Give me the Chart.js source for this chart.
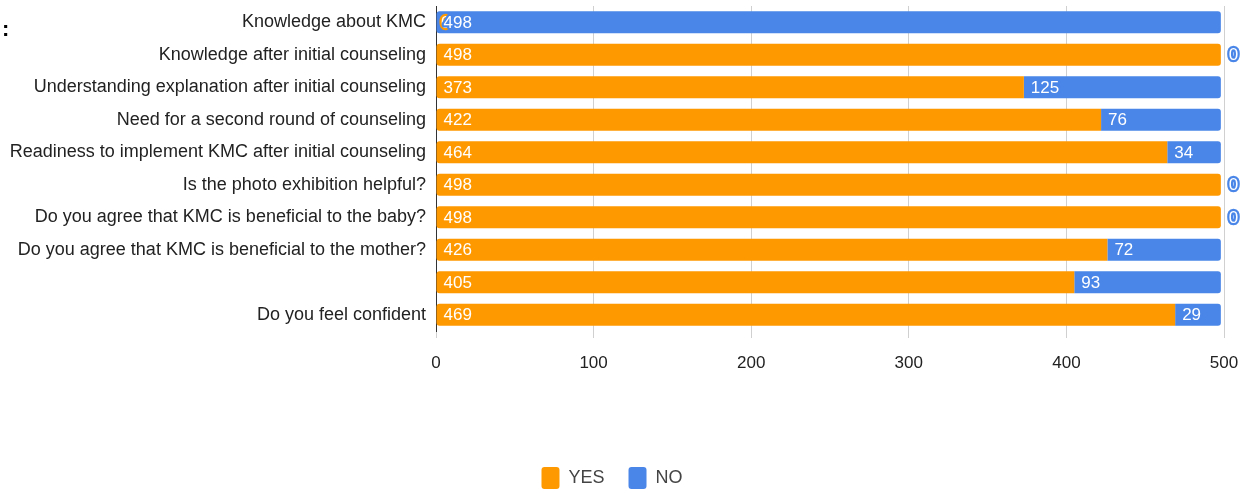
<!DOCTYPE html>
<html>
<head>
<meta charset="utf-8">
<script src="https://cdn.jsdelivr.net/npm/chart.js@4"></script>
<style>
  html, body { margin: 0; padding: 0; background: #fff; }
  #wrap { width: 1249px; height: 493px; }
</style>
</head>
<body>
<div id="wrap"><canvas id="myChart" width="1249" height="493"></canvas></div>
<script>
// categories (top to bottom)
var categories = [
    'Knowledge about KMC',
    'Knowledge after initial counseling',
    'Understanding explanation after initial counseling',
    'Need for a second round of counseling',
    'Readiness to implement KMC after initial counseling',
    'Is the photo exhibition helpful?',
    'Do you agree that KMC is beneficial to the baby?',
    'Do you agree that KMC is beneficial to the mother?',
    '',
    'Do you feel confident'
];
var yesValues = [0, 498, 373, 422, 464, 498, 498, 426, 405, 469];
var noValues = [498, 0, 125, 76, 34, 0, 0, 72, 93, 29];
var xTicks = [0, 100, 200, 300, 400, 500];

var yesColor = '#ff9900';
var noColor = '#4a86e8';
var fontFamily = '"Liberation Sans", Arial, sans-serif';

// white labels with a halo in the bar colour; "0" labels sit just past the bar
var barLabels = {
    id: 'barLabels',
    afterDatasetsDraw: function (chart) {
        var ctx = chart.ctx;
        ctx.save();
        ctx.font = '17px ' + fontFamily;
        ctx.textBaseline = 'middle';
        ctx.textAlign = 'left';
        ctx.lineWidth = 4.5;
        ctx.lineJoin = 'round';
        chart.data.datasets.forEach(function (ds, di) {
            var meta = chart.getDatasetMeta(di);
            meta.data.forEach(function (bar, i) {
                var v = ds.data[i];
                var txt = String(v);
                var x;
                if (v > 0) {
                    x = bar.base + 7;
                } else {
                    x = di === 0 ? bar.base + 5 : bar.x + 8;
                }
                ctx.strokeStyle = ds.backgroundColor;
                ctx.strokeText(txt, x, bar.y + 1);
                ctx.fillStyle = '#fff';
                ctx.fillText(txt, x, bar.y + 1);
            });
        });
        // stray colon at the top left of the original image
        ctx.fillStyle = '#000';
        ctx.font = 'bold 22px ' + fontFamily;
        ctx.fillText(':', 2, 30);
        ctx.restore();
    }
};

var element = document.getElementById('myChart').getContext('2d');

var chartData = {
    labels: categories,
    datasets: [{
        label: 'YES',
        data: yesValues,
        backgroundColor: yesColor,
        borderWidth: 0,
        borderSkipped: false,
        borderRadius: function (c) {
            var r = noValues[c.dataIndex] === 0 ? 3 : 0;
            return { topLeft: 3, bottomLeft: 3, topRight: r, bottomRight: r };
        }
    }, {
        label: 'NO',
        data: noValues,
        backgroundColor: noColor,
        borderWidth: 0,
        borderSkipped: false,
        borderRadius: function (c) {
            var l = yesValues[c.dataIndex] === 0 ? 3 : 0;
            return { topLeft: l, bottomLeft: l, topRight: 3, bottomRight: 3 };
        }
    }]
};

var chartOptions = {
    indexAxis: 'y',
    responsive: false,
    animation: false,
    layout: { padding: { top: 6, right: 25, bottom: 0, left: 0 } },
    datasets: { bar: { barPercentage: 0.67, categoryPercentage: 1 } },
    scales: {
        x: {
            stacked: true,
            min: 0,
            max: 500,
            afterBuildTicks: function (s) { s.ticks = xTicks.map(function (v) { return { value: v }; }); },
            afterFit: function (s) { s.height = 112; s.paddingLeft = 0; s.paddingRight = 0; },
            grid: { color: '#d0d0d0', tickLength: 7, drawTicks: true },
            border: { display: false },
            ticks: { color: '#222', padding: 15, font: { family: fontFamily, size: 17 } }
        },
        y: {
            stacked: true,
            afterFit: function (s) { s.width = 436; s.paddingTop = 0; s.paddingBottom = 0; },
            grid: { display: false, drawTicks: false },
            border: { display: true, color: '#333', width: 1 },
            ticks: { color: '#222', padding: 10, autoSkip: false, font: { family: fontFamily, size: 18 } }
        }
    },
    plugins: {
        legend: {
            position: 'bottom',
            maxHeight: 50,
            labels: {
                color: '#444',
                boxWidth: 18,
                boxHeight: 22,
                useBorderRadius: true,
                borderRadius: 3,
                padding: 24,
                font: { family: fontFamily, size: 18 }
            }
        },
        tooltip: { enabled: false }
    }
};

var chart = new Chart(element, { type: 'bar', data: chartData, options: chartOptions, plugins: [barLabels] });
</script>
</body>
</html>
